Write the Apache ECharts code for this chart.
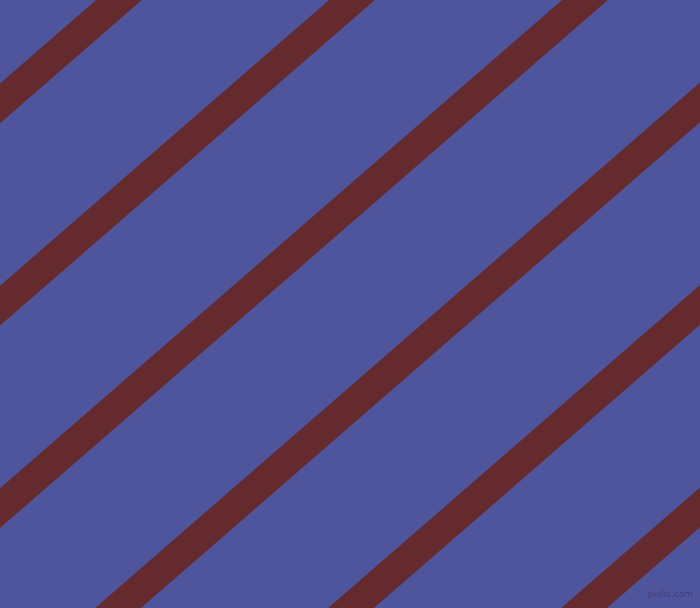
<!DOCTYPE html>
<html>
<head>
<meta charset="utf-8">
<script src="https://cdn.jsdelivr.net/npm/echarts@6/dist/echarts.min.js"></script>
<style>
  html, body { margin: 0; padding: 0; }
  #stripes { width: 700px; height: 608px; }
</style>
</head>
<body>
<div id="stripes"></div>
<script>
// stripe ends, in picture units: x where each stripe crosses y=-40 and y=648
var stripeTopY = -40;
var stripeBottomY = 648;
var stripeTopX = [165, 398, 631, 864, 1097, 1330];
var stripeBottomX = [-627, -394, -161, 72, 305, 538];

var myChart = echarts.init(document.getElementById('stripes'));

var series = [];
for (var i = 0; i < stripeTopX.length; i++) {
    series.push({
        type: 'line',
        data: [[stripeTopX[i], stripeTopY], [stripeBottomX[i], stripeBottomY]],
        symbol: 'none',
        clip: true,
        silent: true,
        lineStyle: { color: '#652a2d', width: 30, cap: 'butt' }
    });
}

var option = {
    backgroundColor: '#4f559c',
    animation: false,
    grid: { left: 0, right: 0, top: 0, bottom: 0 },
    xAxis: { type: 'value', min: 0, max: 700, show: false },
    yAxis: { type: 'value', min: 0, max: 608, inverse: true, show: false },
    graphic: [{
        type: 'text',
        right: 7,
        bottom: 9,
        style: {
            text: 'pixlis.com',
            fill: '#443e78',
            font: '9px "DejaVu Sans"'
        }
    }],
    series: series
};

myChart.setOption(option);
</script>
</body>
</html>
